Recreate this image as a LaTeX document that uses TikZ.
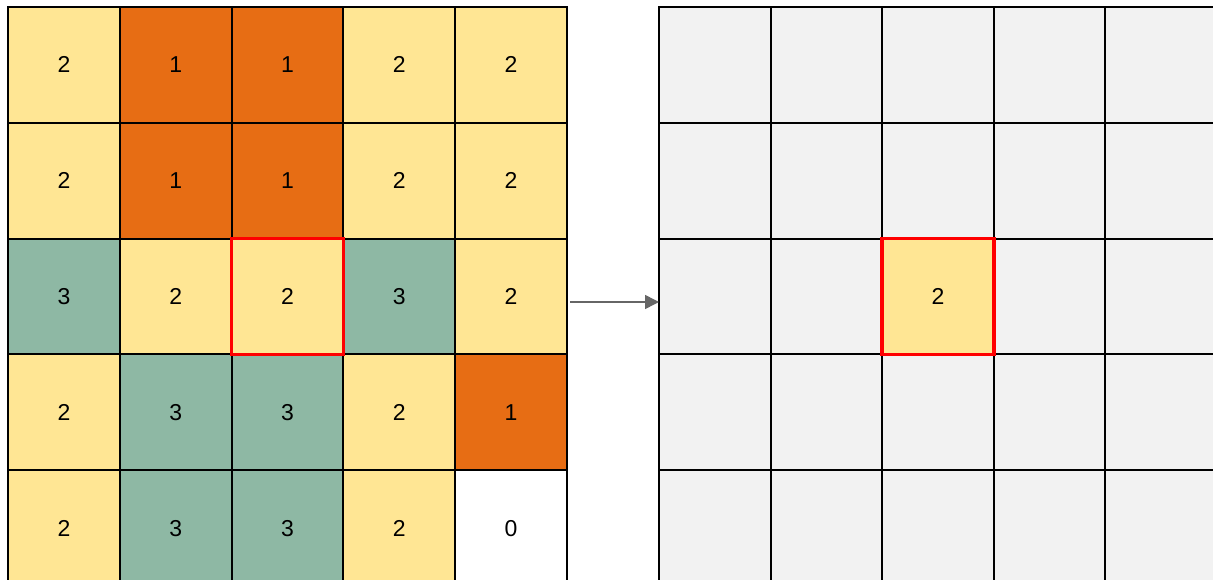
\documentclass[tikz,border=0pt]{standalone}
\usepackage{fontspec}
\setmainfont{Liberation Sans}
\usetikzlibrary{arrows.meta}
\definecolor{c0}{HTML}{FFFFFF}
\definecolor{c1}{HTML}{E76D14}
\definecolor{c2}{HTML}{FFE694}
\definecolor{c3}{HTML}{8EB8A4}
\definecolor{cl}{HTML}{F2F2F2}
\definecolor{arrowgray}{HTML}{666666}
\begin{document}
\begin{tikzpicture}[x=1pt,y=-1pt,
  cell/.style={draw=black,line width=2pt,minimum width=111.8pt,minimum height=115.8pt,
    inner sep=0pt,outer sep=0pt,anchor=north west,font=\fontsize{23}{26}\selectfont},
  emptycell/.style={cell,fill=cl},
  hilite/.style={cell,draw=red,line width=3.5pt,fill=c2},
  flow/.style={draw=arrowgray,line width=1.5pt,-{Triangle[length=14pt,width=14pt]}}]
\useasboundingbox (0,0) rectangle (1213,580);
\clip (0,0) rectangle (1213,580);
\fill[white] (0,0) rectangle (1213,580);
% left grid
\foreach \v [count=\i from 0] in {2,1,1,2,2, 2,1,1,2,2, 3,2,2,3,2, 2,3,3,2,1, 2,3,3,2,0}{
  \pgfmathtruncatemacro{\r}{int(\i/5)}
  \pgfmathtruncatemacro{\c}{mod(\i,5)}
  \node[cell,fill=c\v] (L\r\c) at ({8+111.8*\c},{7+115.8*\r}) {\v};
}
% right grid
\foreach \i in {0,...,24}{
  \pgfmathtruncatemacro{\r}{int(\i/5)}
  \pgfmathtruncatemacro{\c}{mod(\i,5)}
  \node[emptycell] (R\r\c) at ({659+111.6*\c},{7+115.8*\r}) {};
}
% highlighted cells
\node[hilite] (Lh) at ({8+111.8*2},{7+115.8*2}) {2};
\node[hilite] (Rh) at ({659+111.6*2},{7+115.8*2}) {2};
% arrow
\coordinate (as) at (570,302);
\coordinate (ae) at (659,302);
\draw[flow] (as) -- (ae);
\end{tikzpicture}
\end{document}
